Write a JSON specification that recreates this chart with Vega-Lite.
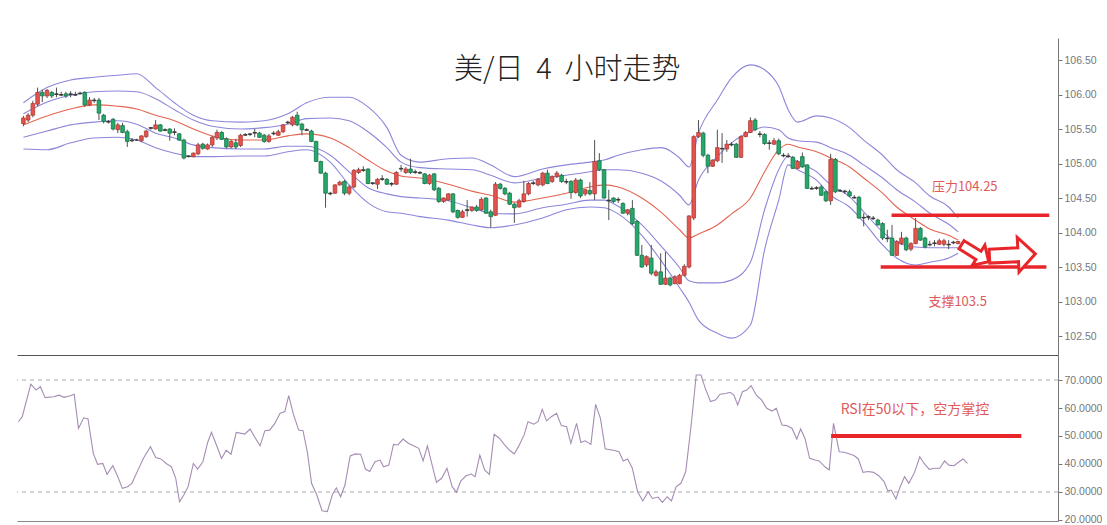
{
"$schema":"https://vega.github.io/schema/vega-lite/v6.json",
"padding":{"left":16,"top":38,"right":0,"bottom":0},
"background":"white",
"spacing":0,
"config":{"view":{"stroke":null},"font":"Noto Sans CJK SC","axis":{"grid":false,"title":null,"labelOverlap":false}},
"datasets":{
"candles":[
{"i":0,"o":105.58,"h":105.69,"l":105.54,"c":105.66},{"i":1,"o":105.63,"h":105.73,"l":105.60,"c":105.70},{"i":2,"o":105.70,"h":105.91,"l":105.67,"c":105.87},{"i":3,"o":105.86,"h":106.10,"l":105.83,"c":106.03},{"i":4,"o":106.03,"h":106.07,"l":105.89,"c":105.98},{"i":5,"o":105.98,"h":106.08,"l":105.95,"c":106.06},{"i":6,"o":106.03,"h":106.05,"l":105.95,"c":105.98},{"i":7,"o":106.01,"h":106.10,"l":105.96,"c":106.00},{"i":8,"o":106.00,"h":106.04,"l":105.98,"c":105.99},{"i":9,"o":106.01,"h":106.04,"l":105.95,"c":105.98},
{"i":10,"o":106.00,"h":106.05,"l":105.96,"c":106.01},{"i":11,"o":106.00,"h":106.04,"l":105.98,"c":105.99},{"i":12,"o":106.01,"h":106.04,"l":106.00,"c":106.02},{"i":13,"o":106.03,"h":106.05,"l":105.82,"c":105.85},{"i":14,"o":105.85,"h":105.96,"l":105.83,"c":105.92},{"i":15,"o":105.92,"h":105.95,"l":105.88,"c":105.91},{"i":16,"o":105.92,"h":105.95,"l":105.63,"c":105.73},{"i":17,"o":105.70,"h":105.72,"l":105.58,"c":105.61},{"i":18,"o":105.61,"h":105.63,"l":105.58,"c":105.60},{"i":19,"o":105.64,"h":105.66,"l":105.48,"c":105.50},
{"i":20,"o":105.49,"h":105.59,"l":105.44,"c":105.56},{"i":21,"o":105.55,"h":105.59,"l":105.44,"c":105.45},{"i":22,"o":105.46,"h":105.49,"l":105.24,"c":105.32},{"i":23,"o":105.34,"h":105.37,"l":105.31,"c":105.33},{"i":24,"o":105.34,"h":105.36,"l":105.33,"c":105.34},{"i":25,"o":105.33,"h":105.41,"l":105.31,"c":105.40},{"i":26,"o":105.39,"h":105.49,"l":105.37,"c":105.47},{"i":27,"o":105.51,"h":105.53,"l":105.49,"c":105.52},{"i":28,"o":105.50,"h":105.63,"l":105.49,"c":105.56},{"i":29,"o":105.56,"h":105.57,"l":105.46,"c":105.47},
{"i":30,"o":105.49,"h":105.51,"l":105.47,"c":105.48},{"i":31,"o":105.50,"h":105.51,"l":105.33,"c":105.44},{"i":32,"o":105.46,"h":105.51,"l":105.41,"c":105.45},{"i":33,"o":105.43,"h":105.44,"l":105.33,"c":105.34},{"i":34,"o":105.34,"h":105.36,"l":105.06,"c":105.08},{"i":35,"o":105.10,"h":105.12,"l":105.09,"c":105.11},{"i":36,"o":105.10,"h":105.16,"l":105.09,"c":105.15},{"i":37,"o":105.14,"h":105.30,"l":105.12,"c":105.27},{"i":38,"o":105.28,"h":105.30,"l":105.20,"c":105.22},{"i":39,"o":105.21,"h":105.29,"l":105.20,"c":105.27},
{"i":40,"o":105.27,"h":105.40,"l":105.24,"c":105.38},{"i":41,"o":105.37,"h":105.49,"l":105.34,"c":105.45},{"i":42,"o":105.45,"h":105.47,"l":105.34,"c":105.35},{"i":43,"o":105.36,"h":105.38,"l":105.22,"c":105.24},{"i":44,"o":105.24,"h":105.34,"l":105.22,"c":105.32},{"i":45,"o":105.30,"h":105.36,"l":105.21,"c":105.24},{"i":46,"o":105.26,"h":105.43,"l":105.24,"c":105.41},{"i":47,"o":105.41,"h":105.44,"l":105.40,"c":105.42},{"i":48,"o":105.42,"h":105.44,"l":105.40,"c":105.43},{"i":49,"o":105.45,"h":105.50,"l":105.38,"c":105.44},
{"i":50,"o":105.44,"h":105.46,"l":105.37,"c":105.38},{"i":51,"o":105.41,"h":105.43,"l":105.30,"c":105.32},{"i":52,"o":105.32,"h":105.43,"l":105.30,"c":105.40},{"i":53,"o":105.44,"h":105.47,"l":105.41,"c":105.43},{"i":54,"o":105.41,"h":105.49,"l":105.40,"c":105.46},{"i":55,"o":105.46,"h":105.57,"l":105.44,"c":105.56},{"i":56,"o":105.59,"h":105.62,"l":105.57,"c":105.60},{"i":57,"o":105.56,"h":105.69,"l":105.54,"c":105.67},{"i":58,"o":105.70,"h":105.75,"l":105.54,"c":105.56},{"i":59,"o":105.57,"h":105.59,"l":105.41,"c":105.49},
{"i":60,"o":105.49,"h":105.51,"l":105.47,"c":105.48},{"i":61,"o":105.47,"h":105.49,"l":105.31,"c":105.32},{"i":62,"o":105.32,"h":105.33,"l":105.02,"c":105.03},{"i":63,"o":105.03,"h":105.04,"l":104.85,"c":104.86},{"i":64,"o":104.86,"h":104.88,"l":104.36,"c":104.57},{"i":65,"o":104.57,"h":104.59,"l":104.54,"c":104.56},{"i":66,"o":104.57,"h":104.70,"l":104.56,"c":104.69},{"i":67,"o":104.69,"h":104.75,"l":104.68,"c":104.73},{"i":68,"o":104.74,"h":104.76,"l":104.54,"c":104.57},{"i":69,"o":104.57,"h":104.69,"l":104.54,"c":104.66},
{"i":70,"o":104.66,"h":104.92,"l":104.64,"c":104.90},{"i":71,"o":104.87,"h":104.94,"l":104.85,"c":104.91},{"i":72,"o":104.91,"h":104.96,"l":104.88,"c":104.90},{"i":73,"o":104.92,"h":104.93,"l":104.70,"c":104.71},{"i":74,"o":104.71,"h":104.73,"l":104.69,"c":104.72},{"i":75,"o":104.70,"h":104.79,"l":104.63,"c":104.77},{"i":76,"o":104.77,"h":104.83,"l":104.75,"c":104.78},{"i":77,"o":104.77,"h":104.79,"l":104.69,"c":104.70},{"i":78,"o":104.70,"h":104.73,"l":104.67,"c":104.71},{"i":79,"o":104.70,"h":104.89,"l":104.69,"c":104.87},
{"i":80,"o":104.93,"h":104.98,"l":104.88,"c":104.92},{"i":81,"o":104.87,"h":104.95,"l":104.85,"c":104.92},{"i":82,"o":104.92,"h":105.07,"l":104.85,"c":104.87},{"i":83,"o":104.87,"h":104.91,"l":104.85,"c":104.88},{"i":84,"o":104.87,"h":104.89,"l":104.85,"c":104.86},{"i":85,"o":104.85,"h":104.86,"l":104.70,"c":104.71},{"i":86,"o":104.71,"h":104.85,"l":104.69,"c":104.83},{"i":87,"o":104.85,"h":104.86,"l":104.60,"c":104.62},{"i":88,"o":104.64,"h":104.66,"l":104.43,"c":104.45},{"i":89,"o":104.45,"h":104.51,"l":104.43,"c":104.50},
{"i":90,"o":104.47,"h":104.57,"l":104.46,"c":104.56},{"i":91,"o":104.56,"h":104.57,"l":104.28,"c":104.30},{"i":92,"o":104.32,"h":104.33,"l":104.20,"c":104.22},{"i":93,"o":104.22,"h":104.33,"l":104.21,"c":104.30},{"i":94,"o":104.33,"h":104.47,"l":104.23,"c":104.32},{"i":95,"o":104.32,"h":104.38,"l":104.30,"c":104.37},{"i":96,"o":104.37,"h":104.40,"l":104.30,"c":104.32},{"i":97,"o":104.33,"h":104.51,"l":104.31,"c":104.48},{"i":98,"o":104.50,"h":104.51,"l":104.27,"c":104.28},{"i":99,"o":104.30,"h":104.33,"l":104.07,"c":104.23},
{"i":100,"o":104.25,"h":104.73,"l":104.24,"c":104.70},{"i":101,"o":104.70,"h":104.72,"l":104.62,"c":104.64},{"i":102,"o":104.64,"h":104.66,"l":104.54,"c":104.56},{"i":103,"o":104.57,"h":104.59,"l":104.40,"c":104.41},{"i":104,"o":104.41,"h":104.43,"l":104.14,"c":104.36},{"i":105,"o":104.37,"h":104.49,"l":104.36,"c":104.46},{"i":106,"o":104.45,"h":104.75,"l":104.43,"c":104.56},{"i":107,"o":104.56,"h":104.73,"l":104.54,"c":104.71},{"i":108,"o":104.71,"h":104.75,"l":104.69,"c":104.72},{"i":109,"o":104.69,"h":104.79,"l":104.67,"c":104.77},
{"i":110,"o":104.69,"h":104.88,"l":104.67,"c":104.86},{"i":111,"o":104.86,"h":104.91,"l":104.70,"c":104.71},{"i":112,"o":104.74,"h":104.83,"l":104.72,"c":104.81},{"i":113,"o":104.81,"h":104.89,"l":104.79,"c":104.86},{"i":114,"o":104.83,"h":104.85,"l":104.72,"c":104.74},{"i":115,"o":104.74,"h":104.78,"l":104.70,"c":104.73},{"i":116,"o":104.74,"h":104.76,"l":104.49,"c":104.58},{"i":117,"o":104.58,"h":104.79,"l":104.56,"c":104.76},{"i":118,"o":104.76,"h":104.78,"l":104.50,"c":104.53},{"i":119,"o":104.56,"h":104.63,"l":104.53,"c":104.62},
{"i":120,"o":104.61,"h":104.73,"l":104.54,"c":104.56},{"i":121,"o":104.56,"h":105.34,"l":104.47,"c":105.03},{"i":122,"o":105.04,"h":105.15,"l":104.89,"c":104.91},{"i":123,"o":104.91,"h":104.92,"l":104.49,"c":104.50},{"i":124,"o":104.47,"h":104.62,"l":104.18,"c":104.46},{"i":125,"o":104.50,"h":104.51,"l":104.43,"c":104.45},{"i":126,"o":104.47,"h":104.51,"l":104.43,"c":104.48},{"i":127,"o":104.42,"h":104.44,"l":104.27,"c":104.28},{"i":128,"o":104.28,"h":104.34,"l":104.25,"c":104.33},{"i":129,"o":104.35,"h":104.47,"l":104.11,"c":104.13},
{"i":130,"o":104.16,"h":104.18,"l":103.66,"c":103.67},{"i":131,"o":103.67,"h":103.82,"l":103.49,"c":103.50},{"i":132,"o":103.53,"h":103.67,"l":103.50,"c":103.65},{"i":133,"o":103.63,"h":103.82,"l":103.38,"c":103.41},{"i":134,"o":103.38,"h":103.46,"l":103.36,"c":103.43},{"i":135,"o":103.43,"h":103.70,"l":103.24,"c":103.25},{"i":136,"o":103.25,"h":103.72,"l":103.24,"c":103.34},{"i":137,"o":103.34,"h":103.36,"l":103.22,"c":103.24},{"i":138,"o":103.26,"h":103.38,"l":103.25,"c":103.36},{"i":139,"o":103.26,"h":103.40,"l":103.25,"c":103.38},
{"i":140,"o":103.38,"h":103.54,"l":103.36,"c":103.51},{"i":141,"o":103.50,"h":104.25,"l":103.48,"c":104.24},{"i":142,"o":104.21,"h":105.41,"l":104.18,"c":105.39},{"i":143,"o":105.39,"h":105.63,"l":105.37,"c":105.45},{"i":144,"o":105.44,"h":105.46,"l":105.09,"c":105.12},{"i":145,"o":105.12,"h":105.14,"l":104.86,"c":104.96},{"i":146,"o":104.96,"h":105.06,"l":104.95,"c":105.05},{"i":147,"o":105.04,"h":105.49,"l":105.02,"c":105.23},{"i":148,"o":105.22,"h":105.44,"l":105.01,"c":105.21},{"i":149,"o":105.21,"h":105.34,"l":105.17,"c":105.28},
{"i":150,"o":105.28,"h":105.31,"l":105.25,"c":105.27},{"i":151,"o":105.28,"h":105.30,"l":105.08,"c":105.09},{"i":152,"o":105.09,"h":105.41,"l":105.08,"c":105.39},{"i":153,"o":105.39,"h":105.47,"l":105.38,"c":105.45},{"i":154,"o":105.45,"h":105.67,"l":105.44,"c":105.62},{"i":155,"o":105.63,"h":105.66,"l":105.47,"c":105.49},{"i":156,"o":105.42,"h":105.47,"l":105.38,"c":105.43},{"i":157,"o":105.42,"h":105.44,"l":105.27,"c":105.29},{"i":158,"o":105.29,"h":105.34,"l":105.20,"c":105.30},{"i":159,"o":105.28,"h":105.37,"l":105.27,"c":105.33},
{"i":160,"o":105.33,"h":105.36,"l":105.12,"c":105.14},{"i":161,"o":105.12,"h":105.15,"l":105.09,"c":105.11},{"i":162,"o":105.11,"h":105.15,"l":105.08,"c":105.10},{"i":163,"o":105.09,"h":105.11,"l":104.92,"c":104.93},{"i":164,"o":104.93,"h":105.05,"l":104.92,"c":105.03},{"i":165,"o":105.10,"h":105.16,"l":104.94,"c":104.95},{"i":166,"o":104.98,"h":104.99,"l":104.63,"c":104.64},{"i":167,"o":104.64,"h":104.67,"l":104.62,"c":104.63},{"i":168,"o":104.64,"h":104.67,"l":104.62,"c":104.65},{"i":169,"o":104.66,"h":104.69,"l":104.53,"c":104.54},
{"i":170,"o":104.59,"h":104.61,"l":104.44,"c":104.46},{"i":171,"o":104.46,"h":105.14,"l":104.40,"c":105.06},{"i":172,"o":105.06,"h":105.08,"l":104.57,"c":104.59},{"i":173,"o":104.61,"h":104.63,"l":104.59,"c":104.60},{"i":174,"o":104.59,"h":104.62,"l":104.56,"c":104.60},{"i":175,"o":104.59,"h":104.62,"l":104.51,"c":104.53},{"i":176,"o":104.51,"h":104.54,"l":104.49,"c":104.50},{"i":177,"o":104.51,"h":104.53,"l":104.20,"c":104.21},{"i":178,"o":104.22,"h":104.28,"l":104.09,"c":104.21},{"i":179,"o":104.22,"h":104.25,"l":104.18,"c":104.23},
{"i":180,"o":104.21,"h":104.24,"l":104.18,"c":104.20},{"i":181,"o":104.18,"h":104.20,"l":104.10,"c":104.11},{"i":182,"o":104.13,"h":104.15,"l":103.89,"c":103.92},{"i":183,"o":103.92,"h":104.04,"l":103.86,"c":103.91},{"i":184,"o":103.92,"h":104.11,"l":103.66,"c":103.67},{"i":185,"o":103.67,"h":103.89,"l":103.66,"c":103.87},{"i":186,"o":103.84,"h":104.01,"l":103.82,"c":103.92},{"i":187,"o":103.92,"h":103.94,"l":103.73,"c":103.75},{"i":188,"o":103.76,"h":103.86,"l":103.73,"c":103.84},{"i":189,"o":103.84,"h":104.21,"l":103.83,"c":104.06},
{"i":190,"o":104.06,"h":104.08,"l":103.88,"c":103.89},{"i":191,"o":103.92,"h":103.94,"l":103.77,"c":103.79},{"i":192,"o":103.83,"h":103.88,"l":103.80,"c":103.82},{"i":193,"o":103.84,"h":103.89,"l":103.80,"c":103.85},{"i":194,"o":103.83,"h":103.91,"l":103.82,"c":103.88},{"i":195,"o":103.83,"h":103.91,"l":103.80,"c":103.88},{"i":196,"o":103.83,"h":103.89,"l":103.76,"c":103.82},{"i":197,"o":103.85,"h":103.88,"l":103.83,"c":103.86},{"i":198,"o":103.84,"h":103.88,"l":103.83,"c":103.87}
],
"bands":[
{"i":0,"u2":105.88,"u1":105.72,"m":105.56,"l1":105.38,"l2":105.21},{"i":5,"u2":106.10,"u1":105.89,"m":105.69,"l1":105.47,"l2":105.20},{"i":10,"u2":106.21,"u1":105.99,"m":105.79,"l1":105.56,"l2":105.30},{"i":15,"u2":106.25,"u1":106.04,"m":105.85,"l1":105.60,"l2":105.37},{"i":20,"u2":106.28,"u1":106.05,"m":105.83,"l1":105.62,"l2":105.38},{"i":24,"u2":106.30,"u1":106.04,"m":105.79,"l1":105.57,"l2":105.34},{"i":28,"u2":106.10,"u1":105.94,"m":105.70,"l1":105.44,"l2":105.23},{"i":32,"u2":105.88,"u1":105.78,"m":105.62,"l1":105.37,"l2":105.15},{"i":36,"u2":105.70,"u1":105.63,"m":105.50,"l1":105.27,"l2":105.10},{"i":40,"u2":105.62,"u1":105.54,"m":105.40,"l1":105.23,"l2":105.10},{"i":46,"u2":105.60,"u1":105.50,"m":105.34,"l1":105.21,"l2":105.11},{"i":51,"u2":105.62,"u1":105.52,"m":105.34,"l1":105.21,"l2":105.11},{"i":56,"u2":105.72,"u1":105.57,"m":105.40,"l1":105.25,"l2":105.17},{"i":60,"u2":105.88,"u1":105.65,"m":105.43,"l1":105.25,"l2":105.20},{"i":65,"u2":105.96,"u1":105.66,"m":105.37,"l1":105.12,"l2":105.02},{"i":69,"u2":105.96,"u1":105.62,"m":105.23,"l1":104.88,"l2":104.69},{"i":73,"u2":105.82,"u1":105.46,"m":105.05,"l1":104.65,"l2":104.43},{"i":77,"u2":105.52,"u1":105.23,"m":104.89,"l1":104.56,"l2":104.30},{"i":80,"u2":105.12,"u1":105.02,"m":104.82,"l1":104.52,"l2":104.28},{"i":84,"u2":105.02,"u1":104.94,"m":104.79,"l1":104.50,"l2":104.23},{"i":90,"u2":105.07,"u1":104.92,"m":104.70,"l1":104.46,"l2":104.18},{"i":95,"u2":105.08,"u1":104.91,"m":104.60,"l1":104.36,"l2":104.11},{"i":99,"u2":104.98,"u1":104.83,"m":104.54,"l1":104.28,"l2":104.07},{"i":104,"u2":104.81,"u1":104.72,"m":104.44,"l1":104.27,"l2":104.11},{"i":110,"u2":104.92,"u1":104.79,"m":104.50,"l1":104.36,"l2":104.21},{"i":115,"u2":104.98,"u1":104.83,"m":104.57,"l1":104.41,"l2":104.33},{"i":120,"u2":105.02,"u1":104.88,"m":104.66,"l1":104.47,"l2":104.37},{"i":123,"u2":105.05,"u1":104.91,"m":104.69,"l1":104.47,"l2":104.36},{"i":126,"u2":105.12,"u1":104.91,"m":104.66,"l1":104.38,"l2":104.27},{"i":131,"u2":105.20,"u1":104.86,"m":104.50,"l1":104.11,"l2":103.96},{"i":135,"u2":105.23,"u1":104.75,"m":104.30,"l1":103.81,"l2":103.60},{"i":139,"u2":105.08,"u1":104.54,"m":104.04,"l1":103.49,"l2":103.20},{"i":141,"u2":104.95,"u1":104.40,"m":103.92,"l1":103.30,"l2":102.99},{"i":143,"u2":105.44,"u1":104.76,"m":103.98,"l1":103.27,"l2":102.73},{"i":147,"u2":105.92,"u1":105.10,"m":104.11,"l1":103.27,"l2":102.54},{"i":150,"u2":106.24,"u1":105.30,"m":104.27,"l1":103.31,"l2":102.47},{"i":154,"u2":106.43,"u1":105.46,"m":104.50,"l1":103.57,"l2":102.66},{"i":157,"u2":106.36,"u1":105.53,"m":104.88,"l1":104.33,"l2":103.75},{"i":160,"u2":106.12,"u1":105.49,"m":105.20,"l1":104.91,"l2":104.47},{"i":162,"u2":105.78,"u1":105.37,"m":105.28,"l1":105.11,"l2":104.98},{"i":164,"u2":105.60,"u1":105.33,"m":105.24,"l1":105.02,"l2":104.91},{"i":168,"u2":105.69,"u1":105.31,"m":105.17,"l1":104.88,"l2":104.76},{"i":171,"u2":105.66,"u1":105.23,"m":105.08,"l1":104.69,"l2":104.54},{"i":175,"u2":105.52,"u1":105.12,"m":104.95,"l1":104.52,"l2":104.37},{"i":178,"u2":105.34,"u1":104.98,"m":104.79,"l1":104.30,"l2":104.15},{"i":182,"u2":105.12,"u1":104.79,"m":104.57,"l1":104.01,"l2":103.82},{"i":185,"u2":104.91,"u1":104.62,"m":104.37,"l1":103.86,"l2":103.63},{"i":189,"u2":104.72,"u1":104.44,"m":104.18,"l1":103.79,"l2":103.53},{"i":192,"u2":104.53,"u1":104.28,"m":104.05,"l1":103.78,"l2":103.57},{"i":196,"u2":104.37,"u1":104.12,"m":103.96,"l1":103.78,"l2":103.63},{"i":198,"u2":104.21,"u1":104.01,"m":103.89,"l1":103.78,"l2":103.70}
],
"rsi":[
{"i":0,"r":55.1},{"i":0.8,"r":56.9},{"i":2.6,"r":68.5},{"i":3.7,"r":66.4},{"i":4.6,"r":67.6},{"i":5.6,"r":63.7},{"i":7.4,"r":64.0},{"i":8.5,"r":64.6},{"i":9.6,"r":63.8},{"i":10.7,"r":64.3},{"i":11.7,"r":64.9},{"i":12.6,"r":52.7},{"i":13.7,"r":56.5},{"i":14.6,"r":56.1},{"i":15.7,"r":43.8},{"i":16.6,"r":39.9},{"i":17.7,"r":40.2},{"i":18.6,"r":36.3},{"i":19.8,"r":39.4},{"i":20.7,"r":36.1},{"i":21.8,"r":31.3},{"i":22.9,"r":31.9},{"i":23.8,"r":33.1},{"i":25.1,"r":37.9},{"i":26.2,"r":42.0},{"i":27.7,"r":46.2},{"i":28.8,"r":42.3},{"i":29.9,"r":41.8},{"i":31.0,"r":40.2},{"i":32.1,"r":39.0},{"i":33.0,"r":34.9},{"i":33.8,"r":26.5},{"i":34.7,"r":28.9},{"i":35.6,"r":31.9},{"i":36.7,"r":40.2},{"i":37.6,"r":38.2},{"i":38.7,"r":40.8},{"i":39.7,"r":47.7},{"i":40.5,"r":51.3},{"i":41.6,"r":46.5},{"i":42.6,"r":42.0},{"i":43.6,"r":44.9},{"i":44.6,"r":43.5},{"i":45.7,"r":51.3},{"i":47.5,"r":50.7},{"i":48.6,"r":52.5},{"i":49.5,"r":49.8},{"i":50.7,"r":46.5},{"i":51.7,"r":51.9},{"i":52.7,"r":52.1},{"i":53.8,"r":54.5},{"i":54.9,"r":58.1},{"i":55.9,"r":58.7},{"i":56.7,"r":64.4},{"i":57.7,"r":57.7},{"i":58.8,"r":52.1},{"i":59.7,"r":51.9},{"i":60.6,"r":44.4},{"i":61.5,"r":33.1},{"i":62.6,"r":28.9},{"i":63.7,"r":23.3},{"i":64.8,"r":23.0},{"i":65.9,"r":29.2},{"i":66.7,"r":31.5},{"i":67.6,"r":28.3},{"i":68.5,"r":32.5},{"i":69.6,"r":42.9},{"i":70.7,"r":43.6},{"i":71.8,"r":43.5},{"i":72.8,"r":38.2},{"i":73.7,"r":37.3},{"i":74.8,"r":40.8},{"i":75.9,"r":41.4},{"i":76.6,"r":39.0},{"i":77.7,"r":39.6},{"i":78.7,"r":47.0},{"i":79.6,"r":46.8},{"i":80.7,"r":48.9},{"i":81.8,"r":47.4},{"i":82.9,"r":46.5},{"i":84.0,"r":45.6},{"i":84.9,"r":41.1},{"i":85.8,"r":46.5},{"i":86.8,"r":39.6},{"i":87.7,"r":33.5},{"i":88.8,"r":34.9},{"i":89.9,"r":38.5},{"i":91.0,"r":31.9},{"i":91.9,"r":29.9},{"i":92.8,"r":33.9},{"i":93.9,"r":35.8},{"i":95.0,"r":36.4},{"i":95.8,"r":35.5},{"i":96.8,"r":43.2},{"i":97.8,"r":37.9},{"i":98.8,"r":36.3},{"i":99.8,"r":50.6},{"i":100.9,"r":49.2},{"i":102.0,"r":46.8},{"i":103.1,"r":44.8},{"i":104.0,"r":43.6},{"i":104.9,"r":46.2},{"i":106.1,"r":50.4},{"i":106.9,"r":55.1},{"i":108.1,"r":54.2},{"i":109.0,"r":55.1},{"i":109.9,"r":59.5},{"i":110.8,"r":55.4},{"i":111.8,"r":56.9},{"i":112.9,"r":58.1},{"i":113.9,"r":53.7},{"i":115.0,"r":53.3},{"i":115.9,"r":47.4},{"i":117.1,"r":54.5},{"i":118.0,"r":47.7},{"i":118.9,"r":48.3},{"i":120.1,"r":47.0},{"i":121.1,"r":61.3},{"i":122.1,"r":56.3},{"i":123.1,"r":45.4},{"i":124.1,"r":45.1},{"i":125.1,"r":44.8},{"i":126.0,"r":44.4},{"i":126.9,"r":41.1},{"i":127.8,"r":41.8},{"i":128.8,"r":38.5},{"i":129.9,"r":30.1},{"i":131.0,"r":26.8},{"i":132.1,"r":30.1},{"i":133.0,"r":27.7},{"i":134.2,"r":28.2},{"i":135.1,"r":26.3},{"i":136.1,"r":28.3},{"i":137.0,"r":26.8},{"i":138.0,"r":31.9},{"i":139.0,"r":33.1},{"i":140.0,"r":37.3},{"i":141.1,"r":53.3},{"i":142.2,"r":71.8},{"i":143.2,"r":71.8},{"i":144.1,"r":67.0},{"i":145.2,"r":62.3},{"i":146.3,"r":62.9},{"i":147.2,"r":64.9},{"i":148.4,"r":65.2},{"i":149.3,"r":65.6},{"i":150.1,"r":64.6},{"i":150.9,"r":61.1},{"i":151.9,"r":65.8},{"i":152.8,"r":66.4},{"i":153.7,"r":68.0},{"i":154.8,"r":64.6},{"i":155.9,"r":62.9},{"i":157.0,"r":59.9},{"i":158.1,"r":58.9},{"i":159.0,"r":59.9},{"i":160.2,"r":53.9},{"i":161.2,"r":53.7},{"i":162.3,"r":52.7},{"i":163.3,"r":48.9},{"i":164.1,"r":52.5},{"i":165.0,"r":49.2},{"i":166.0,"r":42.0},{"i":167.1,"r":41.4},{"i":168.0,"r":41.1},{"i":169.2,"r":39.0},{"i":170.1,"r":37.9},{"i":171.0,"r":54.5},{"i":172.2,"r":44.4},{"i":173.2,"r":44.2},{"i":174.4,"r":43.6},{"i":175.3,"r":43.0},{"i":176.2,"r":41.8},{"i":177.2,"r":37.0},{"i":178.3,"r":37.3},{"i":179.4,"r":37.0},{"i":180.5,"r":35.8},{"i":181.6,"r":33.7},{"i":182.4,"r":30.4},{"i":183.1,"r":30.7},{"i":184.1,"r":27.5},{"i":185.0,"r":31.9},{"i":185.9,"r":35.5},{"i":186.8,"r":33.1},{"i":188.0,"r":37.0},{"i":189.1,"r":42.6},{"i":190.0,"r":40.2},{"i":191.1,"r":38.1},{"i":192.3,"r":38.5},{"i":193.3,"r":38.5},{"i":194.3,"r":41.1},{"i":195.2,"r":39.6},{"i":196.3,"r":39.4},{"i":197.2,"r":40.6},{"i":198.2,"r":41.8},{"i":199.1,"r":40.2}
],
"guides":[{"v":70},{"v":30}]
},
"vconcat":[
{
"width":1041,"height":317,
"layer":[
{"data":{"name":"bands"},"transform":[{"fold":["u2","u1","m","l1","l2"],"as":["b","v"]}],
 "mark":{"type":"line","interpolate":"monotone","strokeWidth":1.1,"clip":true},
 "encoding":{
  "x":{"field":"i","type":"quantitative","scale":{"domain":[-0.3,218.1],"nice":false,"zero":false},"axis":{"orient":"bottom","labels":false,"ticks":false,"domain":true,"domainColor":"#555555","domainWidth":1}},
  "y":{"field":"v","type":"quantitative","scale":{"domain":[102.225,106.819],"nice":false,"zero":false},"axis":{"orient":"right","values":[102.5,103,103.5,104,104.5,105,105.5,106,106.5],"tickCount":20,"format":".2f","domainColor":"#777777","tickColor":"#777777","tickSize":4,"labelColor":"#777777","labelFontSize":10.5,"labelFont":"Liberation Sans","labelPadding":2,"labelOverlap":false}},
  "detail":{"field":"b"},
  "color":{"field":"b","type":"nominal","scale":{"domain":["u2","u1","m","l1","l2"],"range":["#8c87da","#8c87da","#e3654f","#8c87da","#8c87da"]},"legend":null}
 }},
{"data":{"name":"candles"},"mark":{"type":"rule","color":"#505050","strokeWidth":1,"clip":true},
 "encoding":{"x":{"field":"i","type":"quantitative"},"y":{"field":"l","type":"quantitative"},"y2":{"field":"h"}}},
{"data":{"name":"candles"},"mark":{"type":"bar","size":3.6,"strokeWidth":0.8,"clip":true},
 "encoding":{"x":{"field":"i","type":"quantitative"},"y":{"field":"o","type":"quantitative"},"y2":{"field":"c"},
  "fill":{"condition":[{"test":"abs(datum.c - datum.o) < 0.015","value":"#333333"},{"test":"datum.c > datum.o","value":"#e4534e"}],"value":"#25a96a"},
  "stroke":{"condition":[{"test":"abs(datum.c - datum.o) < 0.015","value":"#333333"},{"test":"datum.c > datum.o","value":"#b03a36"}],"value":"#17744a"}}},
{"data":{"values":[{}]},"mark":{"type":"rule","color":"#e8262a","strokeWidth":3.5,"clip":true},
 "encoding":{"x":{"datum":183.9,"type":"quantitative"},"x2":{"datum":217.3},"y":{"datum":104.25,"type":"quantitative"}}},
{"data":{"values":[{}]},"mark":{"type":"rule","color":"#e8262a","strokeWidth":3.5,"clip":true},
 "encoding":{"x":{"datum":181.6,"type":"quantitative"},"x2":{"datum":216.7},"y":{"datum":103.5,"type":"quantitative"}}},
{"data":{"values":[{}]},"mark":{"type":"point","shape":"M -1 -0.3 L 0.25 -0.3 L 0.25 -0.75 L 1 0 L 0.25 0.75 L 0.25 0.3 L -1 0.3 Z","size":1024,"angle":32,"filled":true,"fill":"white","stroke":"#e8262a","strokeWidth":3,"opacity":1,"clip":true},
 "encoding":{"x":{"datum":201.6,"type":"quantitative"},"y":{"datum":103.7,"type":"quantitative"}}},
{"data":{"values":[{}]},"mark":{"type":"point","shape":"M -1 -0.3 L 0.25 -0.3 L 0.25 -0.75 L 1 0 L 0.25 0.75 L 0.25 0.3 L -1 0.3 Z","size":2116,"angle":-3,"filled":true,"fill":"white","stroke":"#e8262a","strokeWidth":3,"opacity":1,"clip":true},
 "encoding":{"x":{"datum":209.5,"type":"quantitative"},"y":{"datum":103.674,"type":"quantitative"}}},
{"data":{"values":[{}]},"mark":{"type":"text","text":"美/日\u00a0\u00a04\u00a0\u00a0小时走势","font":"Noto Sans CJK SC","fontSize":29,"fontWeight":300,"color":"#222222","align":"center","baseline":"middle"},
 "encoding":{"x":{"datum":115.2,"type":"quantitative"},"y":{"datum":106.355,"type":"quantitative"}}},
{"data":{"values":[{}]},"mark":{"type":"text","text":"压力104.25","font":"Noto Sans CJK SC","fontSize":13,"color":"#e05a5a","align":"center","baseline":"middle"},
 "encoding":{"x":{"datum":199.4,"type":"quantitative"},"y":{"datum":104.66,"type":"quantitative"}}},
{"data":{"values":[{}]},"mark":{"type":"text","text":"支撑103.5","font":"Noto Sans CJK SC","fontSize":13,"color":"#e05a5a","align":"center","baseline":"middle"},
 "encoding":{"x":{"datum":197.9,"type":"quantitative"},"y":{"datum":102.993,"type":"quantitative"}}}
]
},
{
"width":1041,"height":166,
"layer":[
{"data":{"name":"guides"},"mark":{"type":"rule","color":"#aaaaaa","strokeDash":[4,4],"strokeWidth":1},
 "encoding":{"y":{"field":"v","type":"quantitative","scale":{"domain":[19.64,78.93],"nice":false,"zero":false},"axis":{"orient":"right","values":[20,30,40,50,60,70],"tickCount":20,"format":".4f","domainColor":"#777777","tickColor":"#777777","tickSize":4,"labelColor":"#777777","labelFontSize":10.5,"labelFont":"Liberation Sans","labelPadding":2,"labelOverlap":false}}}},
{"data":{"name":"rsi"},"mark":{"type":"line","color":"#a58cb4","strokeWidth":1.1,"clip":true},
 "encoding":{"x":{"field":"i","type":"quantitative","scale":{"domain":[-0.3,218.1],"nice":false,"zero":false},"axis":{"orient":"bottom","labels":false,"ticks":false,"domain":true,"domainColor":"#888888","domainWidth":1}},
  "y":{"field":"r","type":"quantitative"}}},
{"data":{"values":[{}]},"mark":{"type":"rule","color":"#e8262a","strokeWidth":4,"clip":true},
 "encoding":{"x":{"datum":170.5,"type":"quantitative"},"x2":{"datum":210.4},"y":{"datum":50,"type":"quantitative"}}},
{"data":{"values":[{}]},"mark":{"type":"text","text":"RSI在50以下，空方掌控","font":"Noto Sans CJK SC","fontSize":14,"color":"#e05a5a","align":"center","baseline":"middle"},
 "encoding":{"x":{"datum":188.1,"type":"quantitative"},"y":{"datum":59.3,"type":"quantitative"}}}
]
}
]
}
